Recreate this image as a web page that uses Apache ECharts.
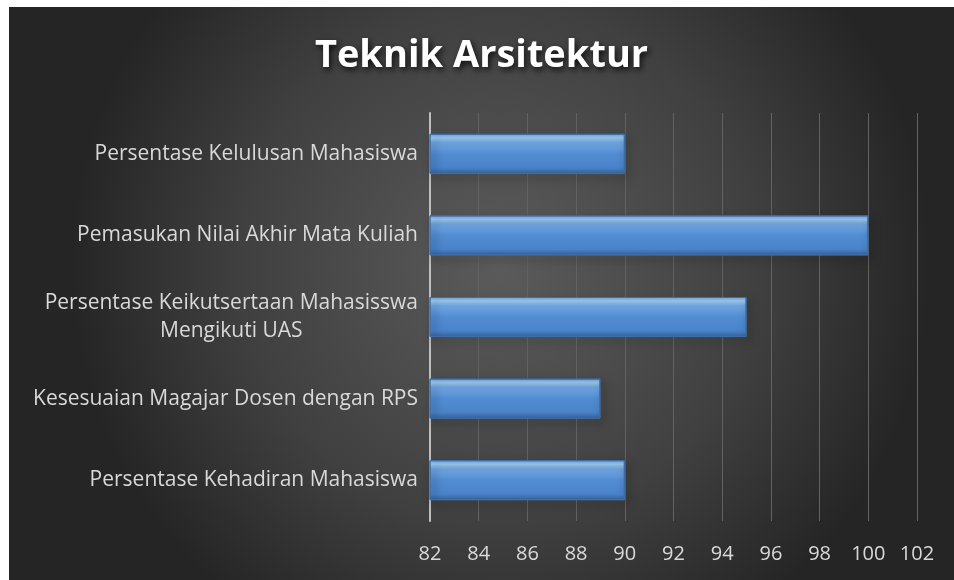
<!DOCTYPE html>
<html>
<head>
<meta charset="utf-8">
<script src="https://cdn.jsdelivr.net/npm/echarts@6/dist/echarts.min.js"></script>
<style>
  html, body { margin: 0; padding: 0; background: #ffffff; }
  #chart { position: absolute; left: 9px; top: 7px; width: 945px; height: 573px; }
</style>
</head>
<body>
<div id="chart"></div>
<script>
// top to bottom, as in the picture
const categories = [
    'Persentase Kelulusan Mahasiswa',
    'Pemasukan Nilai Akhir Mata Kuliah',
    'Persentase Keikutsertaan Mahasisswa\nMengikuti UAS',
    'Kesesuaian Magajar Dosen dengan RPS',
    'Persentase Kehadiran Mahasiswa'
];
const values = [90, 100, 95, 89, 90];
const xTicks = { min: 82, max: 102, interval: 2 };

let myChart = echarts.init(document.getElementById('chart'));
let option = {
    backgroundColor: {
        type: 'radial', x: 0.52, y: 0.45, r: 0.75,
        colorStops: [
            { offset: 0, color: '#5b5b5b' },
            { offset: 0.6, color: '#404040' },
            { offset: 1, color: '#252525' }
        ]
    },
    title: {
        text: 'Teknik Arsitektur',
        left: 'center',
        top: 25,
        textStyle: {
            color: '#ffffff',
            fontFamily: 'Open Sans',
            fontWeight: 'bold',
            fontSize: 38,
            textShadowColor: 'rgba(0,0,0,0.8)',
            textShadowBlur: 6,
            textShadowOffsetX: 2,
            textShadowOffsetY: 3
        }
    },
    grid: {
        left: 421,
        right: 37,
        top: 106,
        bottom: 59
    },
    xAxis: {
        type: 'value',
        min: xTicks.min,
        max: xTicks.max,
        interval: xTicks.interval,
        axisLine: { show: false },
        axisTick: { show: false },
        axisLabel: {
            color: '#d9d9d9',
            fontFamily: 'Open Sans',
            fontSize: 20,
            margin: 23
        },
        splitLine: { lineStyle: { color: '#626262', width: 1 } }
    },
    yAxis: {
        type: 'category',
        inverse: true,
        data: categories,
        axisLine: { lineStyle: { color: '#bfbfbf', width: 2 } },
        axisTick: { show: false },
        axisLabel: {
            color: '#d9d9d9',
            fontFamily: 'Open Sans',
            fontSize: 21,
            margin: 12,
            lineHeight: 28,
            formatter: function (v) {
                if (v.indexOf('\n') < 0) return v;
                return v.split('\n').map(s => '{c|' + s + '}').join('\n');
            },
            rich: {
                c: { align: 'center', color: '#d9d9d9', fontFamily: 'Open Sans', fontSize: 21, lineHeight: 28 }
            }
        }
    },
    series: [{
        type: 'bar',
        data: values,
        barWidth: 40,
        itemStyle: {
            color: {
                type: 'linear', x: 0, y: 0, x2: 0, y2: 1,
                colorStops: [
                    { offset: 0, color: '#6ea3e0' },
                    { offset: 0.1, color: '#a0cef6' },
                    { offset: 0.22, color: '#72a8e3' },
                    { offset: 0.5, color: '#528cd2' },
                    { offset: 0.85, color: '#4a83c9' },
                    { offset: 1, color: '#34649f' }
                ]
            },
            borderColor: '#3d6ea8',
            borderWidth: 1,
            shadowColor: 'rgba(0,0,0,0.6)',
            shadowBlur: 8,
            shadowOffsetX: 3,
            shadowOffsetY: 4
        }
    }]
};
myChart.setOption(option);
window.onresize = function () {
    myChart.resize();
};
</script>
</body>
</html>
